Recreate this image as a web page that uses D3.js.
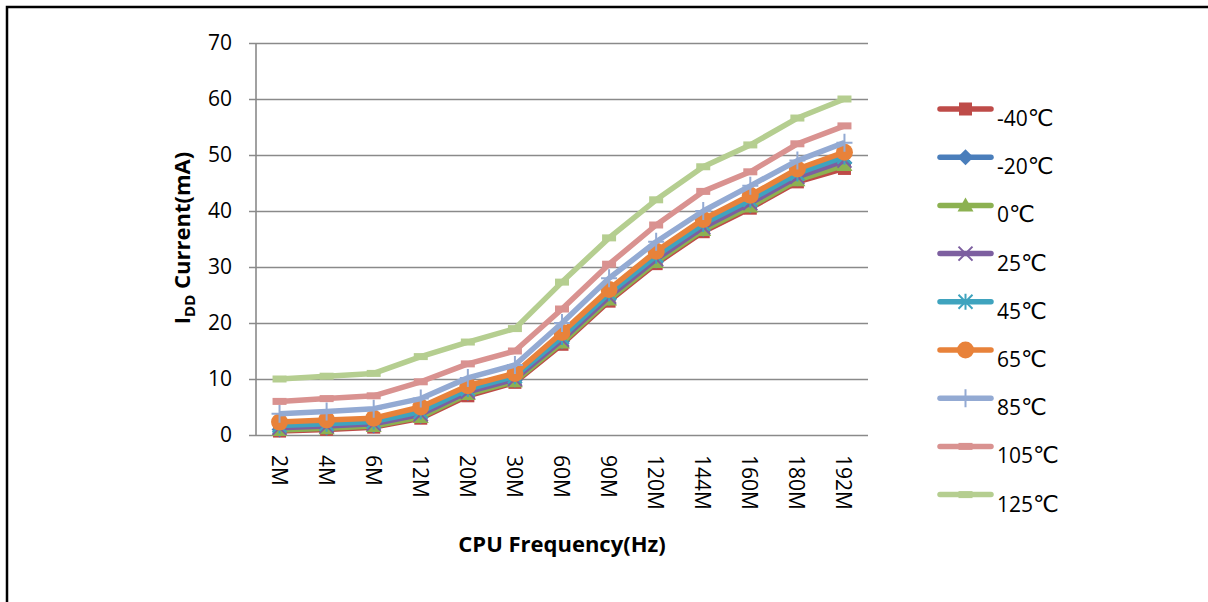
<!DOCTYPE html>
<html>
<head>
<meta charset="utf-8">
<script src="https://cdn.jsdelivr.net/npm/d3@7"></script>
<style>
body { margin: 0; background: #fff; }
text { font-family: "Open Sans", "Noto Sans", sans-serif; fill: #000; }
</style>
</head>
<body>
<svg width="1208" height="602"></svg>
<script>
var svg = d3.select("svg");

//==================================================
//Data

var freqs = ["2M", "4M", "6M", "12M", "20M", "30M", "60M", "90M", "120M", "144M", "160M", "180M", "192M"];
var temps = ["-40", "-20", "0", "25", "45", "65", "85", "105", "125"];
var yTicks = [0, 10, 20, 30, 40, 50, 60, 70];

var m40  = [0.7, 1.0, 1.4, 3.0, 7.0, 9.4, 16.2, 23.9, 30.6, 36.3, 40.5, 45.2, 47.6];
var m20  = [1.0, 1.3, 1.7, 3.4, 7.5, 9.8, 16.7, 24.4, 31.1, 36.8, 41.0, 45.8, 48.6];
var t0   = [0.9, 1.2, 1.6, 3.2, 7.3, 9.6, 16.5, 24.2, 30.9, 36.6, 40.8, 45.5, 48.2];
var t25  = [1.3, 1.6, 2.0, 3.7, 7.7, 10.0, 17.0, 24.7, 31.4, 37.1, 41.4, 46.1, 49.0];
var t45  = [1.7, 2.0, 2.4, 4.2, 8.2, 10.5, 17.5, 25.3, 32.0, 37.7, 42.0, 46.7, 49.7];
var t65  = [2.3, 2.7, 3.0, 5.0, 8.8, 11.0, 18.3, 26.0, 32.8, 38.5, 42.8, 47.5, 50.5];
var t85  = [3.8, 4.2, 4.7, 6.5, 10.2, 12.5, 20.0, 28.0, 34.5, 40.0, 44.5, 49.0, 52.2];
var t105 = [6.0, 6.5, 7.0, 9.5, 12.7, 15.0, 22.5, 30.5, 37.5, 43.5, 47.0, 52.0, 55.2];
var t125 = [10.0, 10.5, 11.0, 14.0, 16.6, 19.0, 27.3, 35.2, 42.0, 47.9, 51.8, 56.6, 60.0];

var values = [m40, m20, t0, t25, t45, t65, t85, t105, t125];
var colors = ["#BE4B48", "#4A7EBB", "#8CB151", "#7D5FA0", "#3FA3BE", "#E8823A", "#93AAD3", "#D99290", "#B5CE90"];
var markers = ["square", "diamond", "triangle", "x", "star", "circle", "plus", "dash", "dash"];

//==================================================
//Scales

var x = d3.scaleBand().domain(freqs).range([256, 868]);
var y = d3.scaleLinear().domain([0, 70]).range([435, 43]);
var cx = function(d) { return x(d) + x.bandwidth() / 2; };

//outer frame
svg.append("rect")
    .attr("x", 7).attr("y", 7)
    .attr("width", 1220).attr("height", 700)
    .attr("fill", "none")
    .attr("stroke", "#000")
    .attr("stroke-width", 2.5);

//gridlines + y axis
var yAxis = d3.axisLeft(y).tickValues(yTicks).tickSize(-612).tickPadding(24);
var ga = svg.append("g").attr("transform", "translate(256,0)").call(yAxis);
ga.select(".domain").remove();
ga.selectAll(".tick line").attr("stroke", "#8a8a8a").attr("stroke-width", 1.6).attr("x1", -7).attr("x2", 612);
ga.selectAll(".tick text").style("font-size", "21px").attr("fill", "#000");

svg.append("line")
    .attr("x1", 256).attr("x2", 256).attr("y1", 43).attr("y2", 435)
    .attr("stroke", "#8a8a8a").attr("stroke-width", 1.6);

//x labels
var xAxis = d3.axisBottom(x).tickSize(0).tickPadding(0);
var gx = svg.append("g").attr("transform", "translate(0,435)").call(xAxis);
gx.select(".domain").remove();
gx.selectAll(".tick text")
    .style("font-size", "21px")
    .attr("fill", "#000")
    .attr("text-anchor", "start")
    .attr("dy", null)
    .attr("y", 0)
    .attr("dominant-baseline", "central")
    .attr("transform", "translate(0,20) rotate(90)");

//axis titles
svg.append("text")
    .attr("x", 562).attr("y", 552)
    .attr("text-anchor", "middle")
    .style("font-size", "22px").style("font-weight", "bold")
    .text("CPU Frequency(Hz)");

var yt = svg.append("text")
    .attr("transform", "translate(190,238) rotate(-90)")
    .attr("text-anchor", "middle")
    .style("font-size", "22px").style("font-weight", "bold");
yt.append("tspan").text("I");
yt.append("tspan").attr("dy", 5).style("font-size", "15px").text("DD");
yt.append("tspan").attr("dy", -5).text(" Current(mA)");

//==================================================
//Markers

var drawMarker = function(g, type, color, px, py) {
    if (type == "square") {
        g.append("rect").attr("x", px - 6.5).attr("y", py - 6.5).attr("width", 13).attr("height", 13).attr("fill", color);
    } else if (type == "diamond") {
        g.append("path").attr("d", "M" + px + "," + (py - 8) + "L" + (px + 8) + "," + py + "L" + px + "," + (py + 8) + "L" + (px - 8) + "," + py + "Z").attr("fill", color);
    } else if (type == "triangle") {
        g.append("path").attr("d", "M" + px + "," + (py - 8) + "L" + (px + 8) + "," + (py + 6) + "L" + (px - 8) + "," + (py + 6) + "Z").attr("fill", color);
    } else if (type == "x") {
        g.append("path").attr("d", "M" + (px - 7) + "," + (py - 7) + "L" + (px + 7) + "," + (py + 7) + "M" + (px + 7) + "," + (py - 7) + "L" + (px - 7) + "," + (py + 7))
            .attr("stroke", color).attr("stroke-width", 2).attr("fill", "none");
    } else if (type == "star") {
        g.append("path").attr("d", "M" + (px - 7) + "," + (py - 7) + "L" + (px + 7) + "," + (py + 7) + "M" + (px + 7) + "," + (py - 7) + "L" + (px - 7) + "," + (py + 7) + "M" + px + "," + (py - 8) + "L" + px + "," + (py + 8))
            .attr("stroke", color).attr("stroke-width", 2).attr("fill", "none");
    } else if (type == "circle") {
        g.append("circle").attr("cx", px).attr("cy", py).attr("r", 8.5).attr("fill", color);
    } else if (type == "plus") {
        g.append("path").attr("d", "M" + px + "," + (py - 9) + "L" + px + "," + (py + 9) + "M" + (px - 8) + "," + py + "L" + (px + 8) + "," + py)
            .attr("stroke", color).attr("stroke-width", 2).attr("fill", "none");
    } else if (type == "dash") {
        g.append("rect").attr("x", px - 7).attr("y", py - 3.5).attr("width", 14).attr("height", 7).attr("fill", color);
    }
};

//==================================================
//Series

var line = d3.line()
    .x(function(d, i) { return cx(freqs[i]); })
    .y(function(d) { return y(d); });

values.forEach(function(vals, s) {
    var g = svg.append("g").attr("class", "series");
    g.append("path")
        .attr("d", line(vals))
        .attr("fill", "none")
        .attr("stroke", colors[s])
        .attr("stroke-width", 5.5)
        .attr("stroke-linejoin", "round");
    vals.forEach(function(v, i) {
        drawMarker(g, markers[s], colors[s], cx(freqs[i]), y(v));
    });
});

//==================================================
//Legend

var leg = svg.append("g");
temps.forEach(function(t, i) {
    var ly = 109 + i * 48.2;
    leg.append("line")
        .attr("x1", 940).attr("x2", 991).attr("y1", ly).attr("y2", ly)
        .attr("stroke", colors[i]).attr("stroke-width", 5.5).attr("stroke-linecap", "round");
    drawMarker(leg, markers[i], colors[i], 965.5, ly);
    var tx = leg.append("text")
        .attr("x", 997).attr("y", ly + 17)
        .style("font-size", "21px");
    tx.append("tspan").text(t);
    tx.append("tspan").style("font-family", "'DejaVu Sans'").style("font-size", "23px").text("℃");
});
</script>
</body>
</html>
